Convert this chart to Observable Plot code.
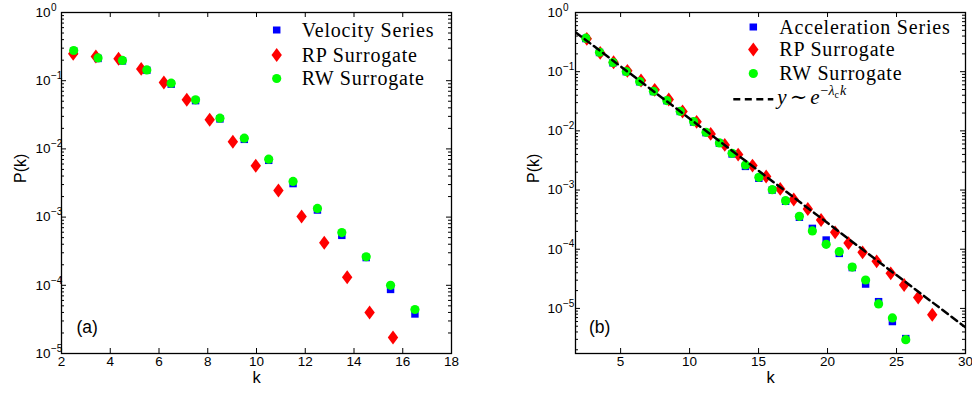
<!DOCTYPE html>
<html><head><meta charset="utf-8">
<script src="https://cdn.jsdelivr.net/npm/d3@7"></script>
<script src="https://cdn.jsdelivr.net/npm/@observablehq/plot@0.6"></script>
<style>
html,body{margin:0;padding:0;background:#fff}
body{width:972px;height:393px;position:relative;overflow:hidden;font-family:"Liberation Sans",Arial,sans-serif}
#pa,#pb{position:absolute;top:0}
#pa{left:0}
#pb{left:486px}
#legend{position:absolute;left:0;top:0;pointer-events:none}
#legend text{font-family:"Liberation Serif","Times New Roman","DejaVu Serif",serif}
</style></head><body>
<div id="pa"></div><div id="pb"></div>
<svg id="legend" width="972" height="393"></svg>
<script>
// ---------- Panel (a): velocity ----------
const kVelA = [2.5,3.5,4.5,5.5,6.5,7.5,8.5,9.5,10.5,11.5,12.5,13.5,14.5,15.5,16.5];
const pVelA = [0.27,0.212,0.195,0.142,0.089,0.051,0.0275,0.0138,0.0068,0.0031,1.27e-3,5.4e-4,2.55e-4,8.7e-5,3.8e-5];
const kRWA  = [2.5,3.5,4.5,5.5,6.5,7.5,8.5,9.5,10.5,11.5,12.5,13.5,14.5,15.5,16.5];
const pRWA  = [0.277,0.216,0.198,0.144,0.092,0.0525,0.0282,0.01435,0.00706,0.00333,1.34e-3,5.94e-4,2.62e-4,1.0e-4,4.42e-5];
const kRPA  = [2.48,3.41,4.34,5.27,6.20,7.14,8.08,9.03,9.97,10.90,11.85,12.78,13.72,14.64,15.60];
const pRPA  = [0.248,0.226,0.21,0.149,0.094,0.0525,0.0267,0.0127,0.00565,0.00245,1.02e-3,4.2e-4,1.31e-4,3.99e-5,1.72e-5];

// ---------- Panel (b): acceleration ----------
const kAccB = [2.48,3.47,4.45,5.41,6.38,7.38,8.35,9.32,10.29,11.19,12.16,13.08,14.05,15.02,15.99,16.96,17.96,18.9,19.9,20.85,21.79,22.76,23.7,24.7,25.67];
const pAccB = [0.363,0.211,0.141,0.1,0.0676,0.0462,0.0324,0.0213,0.0141,0.00933,0.00617,0.00407,0.00251,0.00158,0.001,6.46e-4,3.47e-4,2.25e-4,1.43e-4,8.5e-5,4.9e-5,2.58e-5,1.30e-5,6.0e-6,3.09e-6];
const kRWB  = [2.48,3.47,4.45,5.41,6.38,7.38,8.35,9.32,10.29,11.19,12.16,13.08,14.05,15.02,15.99,16.96,17.96,18.9,19.9,20.85,21.79,22.76,23.7,24.7,25.67];
const pRWB  = [0.368,0.213,0.143,0.1005,0.0681,0.0467,0.0325,0.0214,0.01435,0.00946,0.00625,0.00418,0.00266,0.00164,0.001016,6.62e-4,3.6e-4,2.04e-4,1.21e-4,9.1e-5,5.0e-5,3.02e-5,1.19e-5,6.9e-6,2.96e-6];
const kRPB  = [2.55,3.52,4.49,5.49,6.48,7.47,8.49,9.49,10.51,11.53,12.55,13.52,14.56,15.55,16.57,17.55,18.57,19.53,20.55,21.52,22.54,23.56,24.58,25.55,26.57,27.59];
const pRPB  = [0.359,0.208,0.1445,0.1033,0.0708,0.0493,0.0338,0.0212,0.0142,0.00889,0.00579,0.00397,0.00259,0.00169,0.001045,6.92e-4,4.79e-4,3.12e-4,1.93e-4,1.27e-4,8.85e-5,6.24e-5,3.91e-5,2.49e-5,1.53e-5,7.8e-6];
const kFit  = [1.73,30];
const pFit  = [0.4645,4.78e-6];

// ---------- ticks & labels ----------
const xTicksA = [2,4,6,8,10,12,14,16,18];
const xTicksB = [5,10,15,20,25,30];
const yMajor  = [1,1e-1,1e-2,1e-3,1e-4,1e-5];
const yExp    = ["0","\u22121","\u22122","\u22123","\u22124","\u22125"];
const legendA = ["Velocity Series","RP Surrogate","RW Surrogate"];
const legendB = ["Acceleration Series","RP Surrogate","RW Surrogate"];

const BLUE = "#0000ff", RED = "#ff0000", GREEN = "#00ff00";
const diamond = {draw(ctx, size){const a = Math.sqrt(size)*0.56, b = a*0.75; ctx.moveTo(0,-a); ctx.lineTo(b,0); ctx.lineTo(0,a); ctx.lineTo(-b,0); ctx.closePath();}};
const rows = (ks, ps) => ks.map((k,i)=>({k, p: ps[i]}));

function minorTicks(lo, hi){
  const out = [];
  for (let e = Math.floor(Math.log10(lo)); e < Math.ceil(Math.log10(hi)); e++)
    for (let m = 2; m <= 9; m++){ const v = m*Math.pow(10,e); if (v >= lo && v <= hi) out.push(v); }
  return out;
}

function panel(o){
  const W = 486, H = 393;
  const pw = W - o.ml - o.mr, ph = H - o.mt - o.mb;
  const minor = minorTicks(o.yDomain[0], o.yDomain[1]);
  const marks = [
    Plot.dot(rows(o.kBlue,o.pBlue), {x:"k", y:"p", symbol:"square", r:4.2, fill:BLUE}),
    Plot.dot(rows(o.kRed,o.pRed), {x:"k", y:"p", symbol:diamond, r:7, fill:RED}),
    Plot.dot(rows(o.kGreen,o.pGreen), {x:"k", y:"p", symbol:"circle", r:4.6, fill:GREEN}),
  ];
  if (o.fit) marks.push(Plot.line(rows(o.fit[0],o.fit[1]), {x:"k", y:"p", stroke:"black", strokeWidth:2.5, strokeDasharray:"7,4.5", clip:true}));
  marks.push(
    Plot.tickY(yMajor, {y:d=>d, insetRight: pw-5, stroke:"black"}),
    Plot.tickY(yMajor, {y:d=>d, insetLeft: pw-5, stroke:"black"}),
    Plot.tickY(minor, {y:d=>d, insetRight: pw-3, stroke:"black"}),
    Plot.tickY(minor, {y:d=>d, insetLeft: pw-3, stroke:"black"}),
    Plot.tickX(o.xTicks, {x:d=>d, insetTop: ph-5, stroke:"black"}),
    Plot.tickX(o.xTicks, {x:d=>d, insetBottom: ph-5, stroke:"black"}),
    Plot.frame({stroke:"black", strokeWidth:1.3}),
    Plot.text(yMajor, {y:d=>d, text:()=> "10", frameAnchor:"left", textAnchor:"end", dx:o.ydx, fontSize:13.5}),
    Plot.text(yMajor, {y:d=>d, text:(d,i)=> yExp[i], frameAnchor:"left", textAnchor:"start", dx:o.ydx+0.5, dy:-5, fontSize:10}),
    Plot.text(o.xTicks, {x:d=>d, text:d=>String(d), frameAnchor:"bottom", dy:12, fontSize:13.5}),
    Plot.text(["P(k)"], {text:d=>d, frameAnchor:"left", dx:o.ylabDx, rotate:-90, fontSize:16}),
    Plot.text(["k"], {text:d=>d, frameAnchor:"bottom", dy:29, fontSize:16.5}),
    Plot.text([o.tag], {text:d=>d, frameAnchor:"bottom-left", textAnchor:"start", dx:o.tagDx, dy:-21, fontSize:17.5})
  );
  return Plot.plot({
    width: W, height: H,
    marginLeft: o.ml, marginRight: o.mr, marginTop: o.mt, marginBottom: o.mb,
    x: {type:"linear", domain:o.xDomain, axis:null},
    y: {type:"log", domain:o.yDomain, axis:null},
    style: {fontFamily:'"Liberation Sans", Arial, sans-serif', color:"black", background:"transparent", overflow:"visible"},
    marks
  });
}

document.getElementById("pa").appendChild(panel({
  ml:61, mr:35, mt:12, mb:40, xDomain:[2,18], yDomain:[1e-5,1], xTicks:xTicksA,
  kBlue:kVelA, pBlue:pVelA, kRed:kRPA, pRed:pRPA, kGreen:kRWA, pGreen:pRWA,
  ydx:-11, ylabDx:-41, tag:"(a)", tagDx:15
}));
document.getElementById("pb").appendChild(panel({
  ml:89, mr:7, mt:12, mb:40, xDomain:[1.73,30], yDomain:[1.73e-6,1], xTicks:xTicksB,
  kBlue:kAccB, pBlue:pAccB, kRed:kRPB, pRed:pRPB, kGreen:kRWB, pGreen:pRWB, fit:[kFit,pFit],
  ydx:-13, ylabDx:-42, tag:"(b)", tagDx:13.5
}));

// ---------- legends ----------
const sym = [
  (x,y)=>`<rect x="${x-3.75}" y="${y-3.5}" width="7.5" height="7" fill="${BLUE}"/>`,
  (x,y)=>`<path d="M${x},${y-7}L${x+5.2},${y}L${x},${y+7}L${x-5.2},${y}Z" fill="${RED}"/>`,
  (x,y)=>`<circle cx="${x}" cy="${y}" r="4.6" fill="${GREEN}"/>`
];
function legend(labels, mx, tx, ys){
  return labels.map((t,i)=> sym[i](mx, ys[i]) + `<text x="${tx}" y="${ys[i]+6.5}" font-size="20" letter-spacing="0.8">${t}</text>`).join("");
}
let html = legend(legendA, 276.7, 301.7, [30,55,78.5]);
html += legend(legendB, 753.3, 779.3, [27,49.5,73.5]);
html += `<line x1="733.3" x2="773.3" y1="99.3" y2="99.3" stroke="black" stroke-width="2.5" stroke-dasharray="7,4.5"/>`;
html += `<text x="777.3" y="104" font-size="21"><tspan font-style="italic">y</tspan><tspan dx="3">∼</tspan><tspan dx="3" font-style="italic">e</tspan><tspan font-size="14" dy="-9" dx="1">−</tspan><tspan font-size="14" font-style="italic">λ</tspan><tspan font-size="10" dy="3">c</tspan><tspan font-size="14" font-style="italic" dy="-3" dx="1">k</tspan></text>`;
document.getElementById("legend").innerHTML = html;
</script>
</body></html>
